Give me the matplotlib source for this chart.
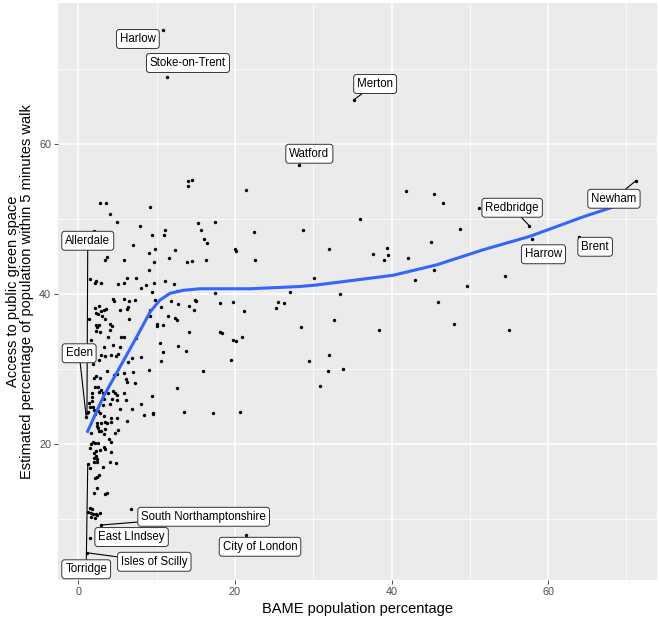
import matplotlib
matplotlib.use('Agg')
import matplotlib.pyplot as plt

plt.rcParams['font.family'] = ['Liberation Sans', 'DejaVu Sans']

# ---------------- data ----------------
bame = [
    14.0, 14.5, 14.0, 21.4, 17.5, 15.7, 16.1, 16.4, 20.0, 20.1, 16.3, 22.4, 22.6, 28.7, 32.0, 36.0,
    37.6, 30.1, 17.5, 27.0, 33.4, 18.1, 19.8, 21.2, 25.5, 26.3, 25.2, 32.7, 28.4, 38.4, 18.1, 18.4,
    19.8, 20.1, 20.9, 19.5, 29.5, 32.0, 15.9, 31.9, 33.8, 30.9, 41.9, 45.4, 46.6, 51.2, 48.7, 45.0,
    39.4, 39.6, 39.0, 42.1, 45.4, 43.0, 54.5, 49.6, 45.9, 48.0, 55.0, 17.2, 20.7, 13.5, 12.6,
    2.8, 3.5, 4.0, 9.2, 4.9, 2.0, 7.9, 15.3, 9.4, 11.1, 10.9, 7.0, 9.8, 9.0, 12.4, 3.4, 3.7, 5.8,
    9.7, 11.6, 13.9, 14.5, 9.0, 6.2, 7.4, 1.5,
    2.1, 2.3, 2.9, 5.1, 5.8, 8.0, 8.6, 9.7, 11.1, 9.4, 12.2, 12.6, 4.4, 4.6, 5.8, 6.5, 7.2, 6.3,
    6.2, 5.3, 9.8, 10.6, 11.8, 12.7, 14.1, 14.9, 14.8, 9.2, 2.1, 2.6, 2.9, 2.3, 2.5, 3.3, 3.5, 3.0,
    3.4, 1.4, 6.5, 9.2, 11.5, 12.4, 12.6, 2.3, 2.6, 2.4, 4.0, 4.3, 2.3, 2.8, 4.0, 3.8, 5.5, 5.8,
    10.1, 10.1, 10.8, 7.4, 10.4, 14.1, 15.0, 1.6, 4.4, 5.3, 3.3, 12.7, 13.8, 10.8, 5.1, 4.8, 4.2,
    3.4, 2.9, 8.0, 6.9, 1.9, 2.6, 10.6, 6.3, 3.7, 4.9, 4.6, 5.8, 7.0, 9.0, 2.3, 2.8, 2.0, 6.1, 6.2,
    7.2,
    1.7, 1.7, 2.1, 2.5, 2.9, 2.6, 1.4, 1.7, 1.5, 1.2, 1.9, 2.0, 2.1, 2.5, 2.8, 3.2, 3.3, 3.2, 3.8,
    4.4, 4.7, 4.9, 4.0, 4.3, 4.9, 5.3, 5.8, 6.1, 6.9, 8.0, 8.4, 9.4, 9.5, 9.5, 4.9, 4.2, 3.3, 6.2,
    2.4, 2.9, 3.4, 3.7, 4.2, 2.4, 2.5, 2.9, 2.6, 3.4, 5.1, 4.7, 3.3, 1.6, 3.9, 4.2, 1.9, 1.6, 2.1,
    2.5, 3.3, 3.4, 1.5, 2.8, 2.3, 2.0, 4.2, 2.3, 2.0, 2.4, 4.0, 4.8, 2.0, 2.4, 1.5, 3.2, 2.6, 2.4,
    2.1, 2.4,
    2.0, 3.4, 3.7, 1.5, 1.7, 1.2, 1.6, 1.9, 2.3, 2.4, 2.8, 2.1, 1.6, 6.7,
]
green = [
    55.1, 55.2, 54.4, 53.9, 49.6, 48.5, 47.3, 46.8, 46.0, 45.7, 44.5, 48.3, 44.5, 48.5, 46.0, 50.0,
    45.3, 42.1, 40.1, 40.3, 40.0, 38.8, 38.9, 37.7, 38.9, 38.8, 38.1, 36.5, 35.6, 35.2, 34.9, 34.8,
    33.9, 33.7, 34.3, 31.2, 31.1, 31.9, 29.7, 29.7, 30.0, 27.7, 53.7, 53.3, 52.1, 51.5, 48.7, 46.9,
    46.1, 45.2, 44.5, 44.8, 43.2, 41.9, 42.4, 41.1, 38.9, 36.0, 35.2, 24.1, 24.3, 24.3, 27.5,
    52.1, 52.1, 50.7, 51.6, 49.6, 48.4, 49.1, 49.5, 47.9, 48.5, 47.9, 46.5, 46.0, 45.5, 45.9, 44.5,
    44.9, 44.5, 44.3, 44.8, 44.3, 44.4, 43.2, 42.1, 42.1, 42.0,
    41.5, 41.7, 41.5, 41.3, 41.5, 40.8, 41.2, 41.5, 41.7, 40.3, 41.3, 40.4, 39.3, 39.1, 39.3, 39.1,
    39.2, 38.3, 38.0, 37.9, 39.2, 38.3, 39.1, 38.7, 38.4, 39.2, 37.9, 37.9, 38.1, 38.4, 37.7, 37.5,
    37.3, 37.9, 38.0, 37.1, 36.7, 36.7, 36.7, 37.1, 37.1, 36.8, 36.5, 35.9, 35.9, 35.6, 36.0, 35.7,
    35.1, 34.9, 35.2, 34.3, 34.3, 34.3, 36.0, 35.7, 35.9, 34.1, 33.5, 34.9, 39.1, 33.9, 33.2, 32.9,
    32.9, 33.1, 32.4, 32.3, 32.0, 31.7, 31.9, 31.7, 31.9, 31.6, 31.5, 30.7, 31.2, 31.1, 30.9, 29.7,
    29.3, 29.2, 29.5, 29.6, 29.9, 29.1, 28.8, 28.8, 28.7, 28.3, 28.1,
    26.8, 26.3, 27.6, 27.6, 27.2, 26.9, 25.5, 25.7, 24.9, 24.3, 24.9, 24.5, 24.0, 24.4, 24.1, 26.8,
    26.0, 25.2, 26.8, 27.1, 26.8, 26.5, 25.3, 26.0, 25.9, 24.7, 26.8, 25.9, 24.7, 25.3, 23.9, 26.4,
    24.1, 24.0, 23.5, 23.5, 23.7, 23.1, 22.8, 22.8, 22.9, 22.8, 22.9, 22.4, 22.1, 21.7, 21.7, 22.0,
    21.9, 21.5, 21.3, 21.5, 20.7, 20.3, 20.3, 20.0, 20.1, 20.1, 19.6, 19.3, 19.5, 19.2, 19.1, 18.8,
    18.9, 18.4, 18.1, 18.0, 17.6, 17.5, 17.6, 17.6, 16.8, 16.9, 15.9, 15.6, 15.5, 14.1,
    13.5, 13.3, 13.5, 11.5, 11.3, 10.9, 10.8, 10.7, 10.7, 10.5, 10.8, 10.1, 10.3, 11.3,
]

label_names = ["Harlow", "Stoke-on-Trent", "Merton", "Watford", "Newham", "Redbridge",
               "Harrow", "Brent", "Allerdale", "Eden", "Torridge", "Isles of Scilly",
               "East LIndsey", "South Northamptonshire", "City of London"]
label_bame = [10.8, 11.3, 35.2, 28.2, 71.2, 57.6, 57.9, 63.9, 1.1, 1.0, 1.2, 1.1, 1.5, 2.9, 21.4]
label_green = [75.2, 68.9, 65.9, 57.2, 55.1, 49.1, 47.3, 47.6, 24.1, 23.6, 17.3, 5.5, 7.5, 9.2, 7.9]

# loess smooth
smooth_bame = [1.1, 3.19, 5.33, 7.46, 9.16, 10.43, 11.71, 13.41, 15.54, 21.9, 28.3, 30.4,
               40.2, 45.8, 51.7, 57.7, 64.5, 68.3, 71.2]
smooth_green = [21.5, 26.3, 30.3, 34.3, 37.6, 39.2, 40.1, 40.5, 40.7, 40.7, 41.0, 41.2,
                42.5, 43.9, 45.9, 47.7, 50.3, 51.6, 52.6]

x_ticks = [0, 20, 40, 60]
y_ticks = [20, 40, 60]

# ---------------- layout (label box centres, segment flags) ----------------
label_pos = [(7.6, 74.0), (14.0, 70.8), (37.9, 68.0), (29.5, 58.7), (68.4, 52.7), (55.4, 51.5),
             (59.4, 45.3), (66.0, 46.3), (1.2, 47.1), (0.1, 32.1), (1.0, 3.3), (9.7, 4.3),
             (6.8, 7.6), (16.0, 10.3), (23.2, 6.3)]
draw_segment = [False, False, True, False, True, True, False, False, True, True, True, True,
                False, True, False]

# ---------------- figure ----------------
W, H = 659, 621
fig = plt.figure(figsize=(W / 100, H / 100), dpi=100)
ax = fig.add_axes([58 / W, 1 - 580 / H, 599 / W, 577 / H])
ax.set_facecolor('#EBEBEB')
for s in ax.spines.values():
    s.set_visible(False)

ax.set_xlim(-2.6, 73.9)
ax.set_ylim(1.87, 78.8)
ax.set_xticks(x_ticks)
ax.set_yticks(y_ticks)
ax.set_xticks([10, 30, 50, 70], minor=True)
ax.set_yticks([10, 30, 50, 70], minor=True)
ax.grid(which='major', color='white', lw=1.1)
ax.grid(which='minor', color='white', lw=0.55)
ax.set_axisbelow(True)
ax.tick_params(which='major', length=2.75, width=0.6, color='#333333',
               labelcolor='#4D4D4D', labelsize=7.8, pad=2.2)
ax.tick_params(which='minor', length=0)

ax.scatter(bame + label_bame, green + label_green, s=6, c='black', lw=0, zorder=3)
ax.plot(smooth_bame, smooth_green, color='#3366FF', lw=2.2, zorder=4,
        solid_capstyle='butt', solid_joinstyle='round')

for name, px, py, (lx, ly), seg in zip(label_names, label_bame, label_green, label_pos, draw_segment):
    bbox = dict(boxstyle='round,pad=0.3,rounding_size=0.25', fc='white', ec='#333333', lw=0.7)
    if seg:
        ax.annotate(name, xy=(px, py), xytext=(lx, ly), ha='center', va='center',
                    fontsize=8.3, color='black', bbox=bbox, zorder=6,
                    arrowprops=dict(arrowstyle='-', color='black', lw=0.8,
                                    shrinkA=0, shrinkB=0))
    else:
        ax.text(lx, ly, name, ha='center', va='center', fontsize=8.3, color='black',
                bbox=bbox, zorder=6)

ax.set_xlabel('BAME population percentage', fontsize=10.5, color='black', labelpad=4)
ax.set_ylabel('Access to public green space\nEstimated percentage of population within 5 minutes walk',
              fontsize=10.5, color='black', labelpad=4, linespacing=1.0)

fig.savefig('out.png', dpi=100)
